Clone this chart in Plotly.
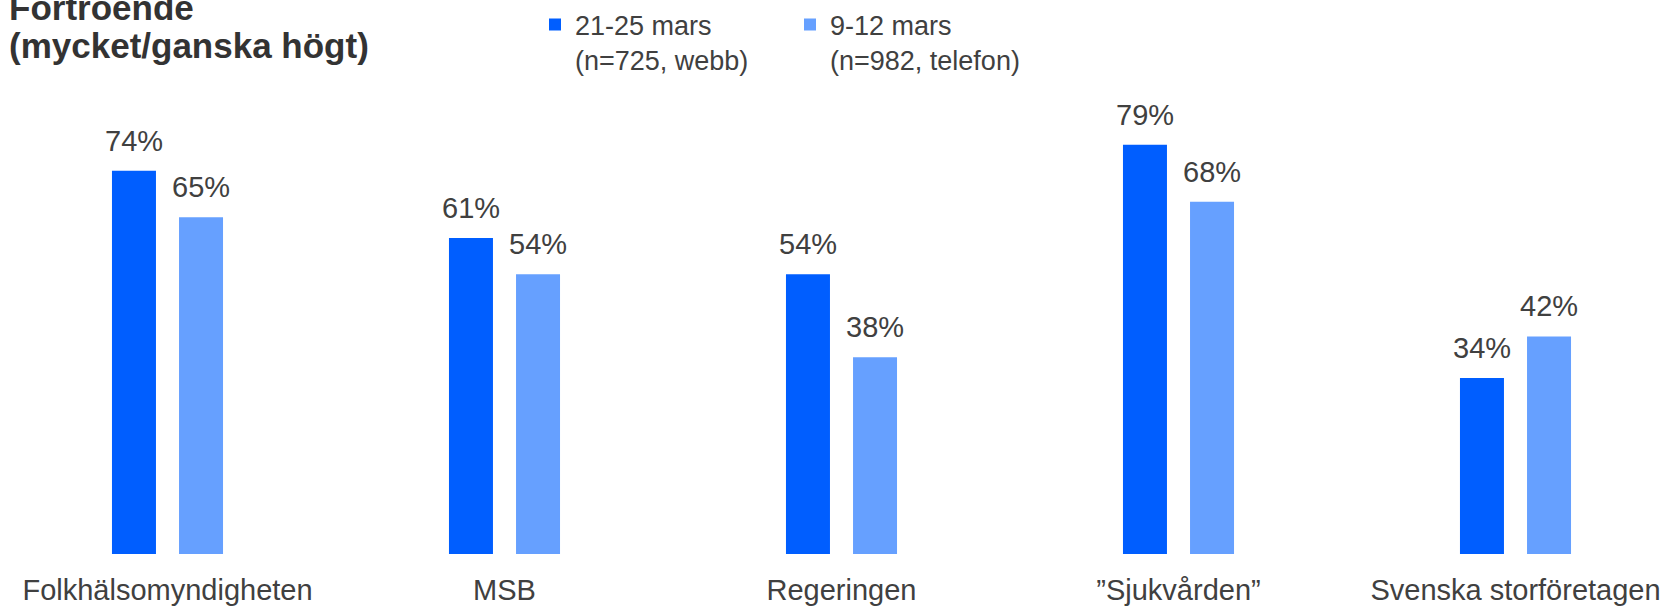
import plotly.graph_objects as go

categories = ["Folkhälsomyndigheten", "MSB", "Regeringen", "\u201dSjukvården\u201d", "Svenska storföretagen"]
series_names = ["21-25 mars<br>(n=725, webb)", "9-12 mars<br>(n=982, telefon)"]
values_web = [74, 61, 54, 79, 34]
values_phone = [65, 54, 38, 68, 42]
colors = ["#005EFF", "#66A0FF"]
title_lines = ["<b>Förtroende</b>", "<b>(mycket/ganska högt)</b>"]

W, H = 1665, 606
ML, MR, MT, MB = 10, 0, 32, 50
PH = H - MT - MB
cat_px = 337.0      # pixel width of one category
first_center = 167.5
x_lo = -(first_center - ML) / cat_px
x_hi = (W - MR - first_center) / cat_px

FONT = "Liberation Sans, Arial, sans-serif"
TXT = "#404040"

fig = go.Figure()
series = [values_web, values_phone]
for name, vals, col in zip(series_names, series, colors):
    fig.add_trace(go.Bar(
        x=list(range(len(categories))), y=vals, name=name,
        marker=dict(color=col, line=dict(width=0)),
    ))

# value labels above each bar
bar_offset_px = 33.5
for k, vals in enumerate(series):
    shift = -bar_offset_px if k == 0 else bar_offset_px
    for i, v in enumerate(vals):
        fig.add_annotation(
            x=i, y=v, xref="x", yref="y", text=f"{v}%", showarrow=False,
            xshift=shift, yshift=12, yanchor="bottom", xanchor="center",
            font=dict(family=FONT, size=29, color=TXT),
        )

# two-line title (separate lines for tighter spacing)
for line, base_px in zip(title_lines, [17, 55]):
    fig.add_annotation(
        x=0, y=1 + (MT - base_px) / PH, xref="paper", yref="paper",
        text=line, showarrow=False, xanchor="left", yanchor="bottom", align="left",
        xshift=-3, yshift=-8, font=dict(family=FONT, size=35, color="#333333"),
    )

fig.update_layout(
    width=W, height=H,
    margin=dict(l=ML, r=MR, t=MT, b=MB, pad=0),
    paper_bgcolor="white", plot_bgcolor="white",
    barmode="group", bargap=0.602, bargroupgap=0.344,
    showlegend=True,
    legend=dict(
        orientation="h", x=(535 - ML) / (W - ML - MR), xanchor="left",
        y=1 + (MT + 4) / PH, yanchor="top",
        valign="top", entrywidth=210, entrywidthmode="pixels",
        font=dict(family=FONT, size=27, color=TXT),
        bgcolor="rgba(0,0,0,0)", borderwidth=0, itemclick=False,
    ),
    xaxis=dict(
        range=[x_lo, x_hi], tickmode="array",
        tickvals=list(range(len(categories))), ticktext=categories,
        showgrid=False, zeroline=False, showline=False, ticks="",
        ticklabelstandoff=16,
        tickfont=dict(family=FONT, size=29, color=TXT),
    ),
    yaxis=dict(range=[0, 100], visible=False, showgrid=False, zeroline=False),
)

fig.write_html("out.html", config={"displayModeBar": False},
               post_script="document.body.style.margin='0px';")
